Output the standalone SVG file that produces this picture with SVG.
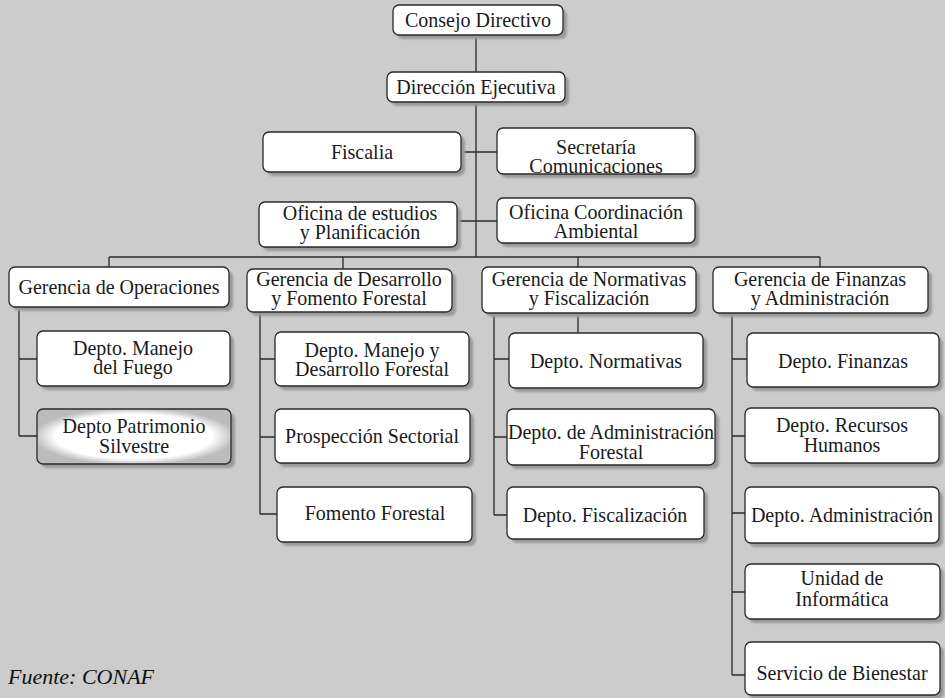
<svg xmlns="http://www.w3.org/2000/svg" width="945" height="698" viewBox="0 0 945 698">
<style>
.box{fill:#fff;stroke:#2a2a2a;stroke-width:1.3}
.sh{fill:#9a9a9a;filter:url(#blur)}
.t{font-family:'Liberation Serif','Times New Roman','DejaVu Serif',Times,serif;font-size:22px;fill:#1a1a1a;text-anchor:middle}
.f{font-family:'Liberation Serif','Times New Roman','DejaVu Serif',Times,serif;font-style:italic;font-size:22px;fill:#111}
.ln{stroke:#2a2a2a;stroke-width:1.3;fill:none}
</style>
<defs>
<filter id="blur" x="-10%" y="-20%" width="120%" height="140%"><feGaussianBlur stdDeviation="1.2"/></filter>
<radialGradient id="grad" cx="50%" cy="50%" r="52%">
<stop offset="0" stop-color="#fff"/>
<stop offset="0.78" stop-color="#fff"/>
<stop offset="1" stop-color="#bcbcbc"/>
</radialGradient>
</defs>
<rect width="945" height="698" fill="#cccccc"/>
<g id="connectors">
<path class="ln" d="M476 35V72M476 102V257M461 152H497M457 221H497M109 257H820M109 257V267M343 257V269M578 257V267M820 257V267"/>
<path class="ln" d="M19 307V436M19 359H37M19 436H37"/>
<path class="ln" d="M260 312V514M260 359H275M260 437H275M260 514H277"/>
<path class="ln" d="M494 313V515M578 313V333M494 359H509M494 437H507M494 515H507"/>
<path class="ln" d="M732 313V675M732 359H747M732 436H745M732 513H745M732 592H745M732 675H745"/>
</g>
<g id="n1"><rect class="sh" x="397" y="9" width="170" height="30" rx="6"/><rect class="box" x="393" y="5" width="170" height="30" rx="6"/><g transform="translate(478,0) scale(0.91,1)"><text class="t" x="0" y="27">Consejo Directivo</text></g></g>
<g id="n2"><rect class="sh" x="391" y="76" width="178" height="30" rx="6"/><rect class="box" x="387" y="72" width="178" height="30" rx="6"/><g transform="translate(476,0) scale(0.91,1)"><text class="t" x="0" y="94">Dirección Ejecutiva</text></g></g>
<g id="n3"><rect class="sh" x="267" y="136" width="198" height="40" rx="6"/><rect class="box" x="263" y="132" width="198" height="40" rx="6"/><g transform="translate(362,0) scale(0.91,1)"><text class="t" x="0" y="159">Fiscalia</text></g></g>
<g id="n4"><rect class="sh" x="501" y="132" width="198" height="46" rx="6"/><rect class="box" x="497" y="128" width="198" height="46" rx="6"/><g transform="translate(596,0) scale(0.91,1)"><text class="t" x="0" y="154">Secretaría</text><text class="t" x="0" y="173">Comunicaciones</text></g></g>
<g id="n5"><rect class="sh" x="263" y="206" width="198" height="45" rx="6"/><rect class="box" x="259" y="202" width="198" height="45" rx="6"/><g transform="translate(360,0) scale(0.91,1)"><text class="t" x="0" y="220">Oficina de estudios</text><text class="t" x="0" y="239">y Planificación</text></g></g>
<g id="n6"><rect class="sh" x="501" y="202" width="198" height="45" rx="6"/><rect class="box" x="497" y="198" width="198" height="45" rx="6"/><g transform="translate(596,0) scale(0.91,1)"><text class="t" x="0" y="219">Oficina Coordinación</text><text class="t" x="0" y="238">Ambiental</text></g></g>
<g id="n7"><rect class="sh" x="13" y="271" width="220" height="40" rx="6"/><rect class="box" x="9" y="267" width="220" height="40" rx="6"/><g transform="translate(119,0) scale(0.91,1)"><text class="t" x="0" y="294">Gerencia de Operaciones</text></g></g>
<g id="n8"><rect class="sh" x="251" y="273" width="205" height="43" rx="6"/><rect class="box" x="247" y="269" width="205" height="43" rx="6"/><g transform="translate(349,0) scale(0.91,1)"><text class="t" x="0" y="286">Gerencia de Desarrollo</text><text class="t" x="0" y="305">y Fomento Forestal</text></g></g>
<g id="n9"><rect class="sh" x="486" y="271" width="214" height="46" rx="6"/><rect class="box" x="482" y="267" width="214" height="46" rx="6"/><g transform="translate(589,0) scale(0.91,1)"><text class="t" x="0" y="286">Gerencia de Normativas</text><text class="t" x="0" y="305">y Fiscalización</text></g></g>
<g id="n10"><rect class="sh" x="717" y="271" width="215" height="46" rx="6"/><rect class="box" x="713" y="267" width="215" height="46" rx="6"/><g transform="translate(820,0) scale(0.91,1)"><text class="t" x="0" y="286">Gerencia de Finanzas</text><text class="t" x="0" y="305">y Administración</text></g></g>
<g id="n11"><rect class="sh" x="41" y="335" width="193" height="55" rx="6"/><rect class="box" x="37" y="331" width="193" height="55" rx="6"/><g transform="translate(133,0) scale(0.91,1)"><text class="t" x="0" y="355">Depto. Manejo</text><text class="t" x="0" y="374">del Fuego</text></g></g>
<g id="n12"><rect class="sh" x="41" y="413" width="194" height="55" rx="6"/><rect x="37" y="409" width="194" height="55" rx="6" fill="url(#grad)" stroke="#2a2a2a" stroke-width="1.3"/><g transform="translate(134,0) scale(0.91,1)"><text class="t" x="0" y="433">Depto Patrimonio</text><text class="t" x="0" y="453">Silvestre</text></g></g>
<g id="n13"><rect class="sh" x="279" y="336" width="194" height="54" rx="6"/><rect class="box" x="275" y="332" width="194" height="54" rx="6"/><g transform="translate(372,0) scale(0.91,1)"><text class="t" x="0" y="357">Depto. Manejo y</text><text class="t" x="0" y="376">Desarrollo Forestal</text></g></g>
<g id="n14"><rect class="sh" x="279" y="413" width="195" height="54" rx="6"/><rect class="box" x="275" y="409" width="195" height="54" rx="6"/><g transform="translate(372,0) scale(0.91,1)"><text class="t" x="0" y="443">Prospección Sectorial</text></g></g>
<g id="n15"><rect class="sh" x="281" y="491" width="195" height="55" rx="6"/><rect class="box" x="277" y="487" width="195" height="55" rx="6"/><g transform="translate(375,0) scale(0.91,1)"><text class="t" x="0" y="520">Fomento Forestal</text></g></g>
<g id="n16"><rect class="sh" x="513" y="337" width="194" height="55" rx="6"/><rect class="box" x="509" y="333" width="194" height="55" rx="6"/><g transform="translate(606,0) scale(0.91,1)"><text class="t" x="0" y="368">Depto. Normativas</text></g></g>
<g id="n17"><rect class="sh" x="511" y="413" width="208" height="56" rx="6"/><rect class="box" x="507" y="409" width="208" height="56" rx="6"/><g transform="translate(611,0) scale(0.91,1)"><text class="t" x="0" y="439">Depto. de Administración</text><text class="t" x="0" y="459">Forestal</text></g></g>
<g id="n18"><rect class="sh" x="511" y="491" width="197" height="52" rx="6"/><rect class="box" x="507" y="487" width="197" height="52" rx="6"/><g transform="translate(605,0) scale(0.91,1)"><text class="t" x="0" y="522">Depto. Fiscalización</text></g></g>
<g id="n19"><rect class="sh" x="751" y="337" width="192" height="54" rx="6"/><rect class="box" x="747" y="333" width="192" height="54" rx="6"/><g transform="translate(843,0) scale(0.91,1)"><text class="t" x="0" y="368">Depto. Finanzas</text></g></g>
<g id="n20"><rect class="sh" x="749" y="412" width="194" height="55" rx="6"/><rect class="box" x="745" y="408" width="194" height="55" rx="6"/><g transform="translate(842,0) scale(0.91,1)"><text class="t" x="0" y="432">Depto. Recursos</text><text class="t" x="0" y="452">Humanos</text></g></g>
<g id="n21"><rect class="sh" x="749" y="491" width="194" height="56" rx="6"/><rect class="box" x="745" y="487" width="194" height="56" rx="6"/><g transform="translate(842,0) scale(0.91,1)"><text class="t" x="0" y="522">Depto. Administración</text></g></g>
<g id="n22"><rect class="sh" x="749" y="568" width="195" height="55" rx="6"/><rect class="box" x="745" y="564" width="195" height="55" rx="6"/><g transform="translate(842,0) scale(0.91,1)"><text class="t" x="0" y="585">Unidad de</text><text class="t" x="0" y="606">Informática</text></g></g>
<g id="n23"><rect class="sh" x="749" y="646" width="195" height="53" rx="6"/><rect class="box" x="745" y="642" width="195" height="53" rx="6"/><g transform="translate(842,0) scale(0.91,1)"><text class="t" x="0" y="680">Servicio de Bienestar</text></g></g>
<text class="f" x="8" y="684">Fuente: CONAF</text>
</svg>
